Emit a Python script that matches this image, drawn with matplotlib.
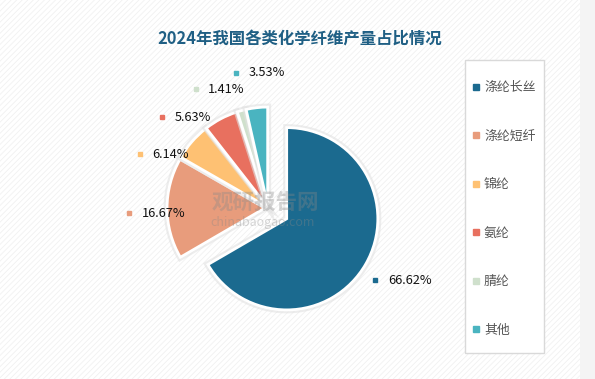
import numpy as np
import matplotlib
matplotlib.use('Agg')
import matplotlib.pyplot as plt
import matplotlib.patheffects as pe
from matplotlib.patches import Rectangle
from matplotlib.lines import Line2D

plt.rcParams['font.family'] = ['Noto Sans CJK SC', 'DejaVu Sans']
plt.rcParams['hatch.linewidth'] = 0.6

# datos
categorias = ['涤纶长丝', '涤纶短纤', '锦纶', '氨纶', '腈纶', '其他']
porcentajes = [66.62, 16.67, 6.14, 5.63, 1.41, 3.53]
colores = ['#1b6a8f', '#e89c7c', '#fec173', '#e8705f', '#cfe0cc', '#4ab4c0']
titulo = '2024年我国各类化学纤维产量占比情况'

fig = plt.figure(figsize=(5.95, 3.79), dpi=100)
fig.patch.set_facecolor('#f4f4f4')
fondo = Rectangle((0, 0), 580 / 595, 1, transform=fig.transFigure, facecolor='white',
                  edgecolor='#f1f1f1', hatch='//////', lw=0, zorder=-2)
fig.patches.append(fondo)

# ejes del pastel: 1 unidad ~ 98 px
cx, cy, lado = 268, 208, 320
ax = fig.add_axes([(cx - lado / 2) / 595, (379 - cy - lado / 2) / 379, lado / 595, lado / 379])

explode = [0.22] + [0.03] * (len(porcentajes) - 1)
wedges, _ = ax.pie(porcentajes, colors=colores, startangle=90, counterclock=False,
                   explode=explode, radius=1,
                   wedgeprops=dict(edgecolor='white', linewidth=2))
wedges[0].set_radius(0.93)
for w in wedges:
    w.set_path_effects([pe.Stroke(linewidth=5, foreground='#e2e2e2', alpha=0.6),
                        pe.Normal()])
ax.set_xlim(-lado / 2 / 98, lado / 2 / 98)
ax.set_ylim(-lado / 2 / 98, lado / 2 / 98)
ax.set_aspect('equal')
ax.axis('off')

# posiciones de etiquetas (angulo medio con separacion minima)
angulos = [(w.theta1 + w.theta2) / 2 for w in wedges]
ang_lab = list(angulos)
ang_lab[0] = angulos[0] - 4
ang_lab[-1] = angulos[-1] + 7
for i in range(len(wedges) - 2, 0, -1):
    ang_lab[i] = max(angulos[i] + 2, ang_lab[i + 1] + 18)
for i, w in enumerate(wedges):
    a = np.deg2rad(ang_lab[i])
    r = w.r * (1.42 + 0.1 * max(0, (ang_lab[i] - 110) / 45) * (i > 1))
    x, y = r * np.cos(a), r * np.sin(a)
    ax.plot(x, y, marker='s', ms=3.5, color=colores[i], ls='none', clip_on=False)
    ax.annotate(f'{porcentajes[i]:.2f}%', (x, y), xytext=(9, 0), textcoords='offset points',
                ha='left', va='center', fontsize=9.2, color='#111111')

# marca de agua
fig.text(265 / 595, 1 - 202 / 379, '观研报告网', fontsize=15.5, fontweight='bold',
         color='#888888', alpha=0.35, ha='center', va='center', zorder=5)
fig.text(263 / 595, 1 - 222 / 379, 'chinabaogao.com', fontsize=9,
         color='#888888', alpha=0.35, ha='center', va='center', zorder=5)

fig.text(300 / 595, 1 - 40 / 379, titulo, fontsize=11.8, fontweight='bold',
         color='#1f5f84', ha='center', va='center')

# leyenda con marco propio
marco = Rectangle((465 / 595, 1 - 353 / 379), 79 / 595, 293 / 379, transform=fig.transFigure,
                  facecolor='white', edgecolor='#d9d9d9', lw=1, zorder=1)
fig.patches.append(marco)
manejadores = [Line2D([0], [0], marker='s', ls='none', ms=4, color=c) for c in colores]
leg = fig.legend(manejadores, categorias, loc='center left',
                 bbox_to_anchor=(473 / 595, 1 - 209 / 379), frameon=False, fontsize=9.3,
                 labelspacing=2.75, handlelength=0.5, handletextpad=0.35,
                 borderpad=0, borderaxespad=0, labelcolor='#555555')

fig.savefig('out.png', dpi=100, facecolor=fig.get_facecolor())
